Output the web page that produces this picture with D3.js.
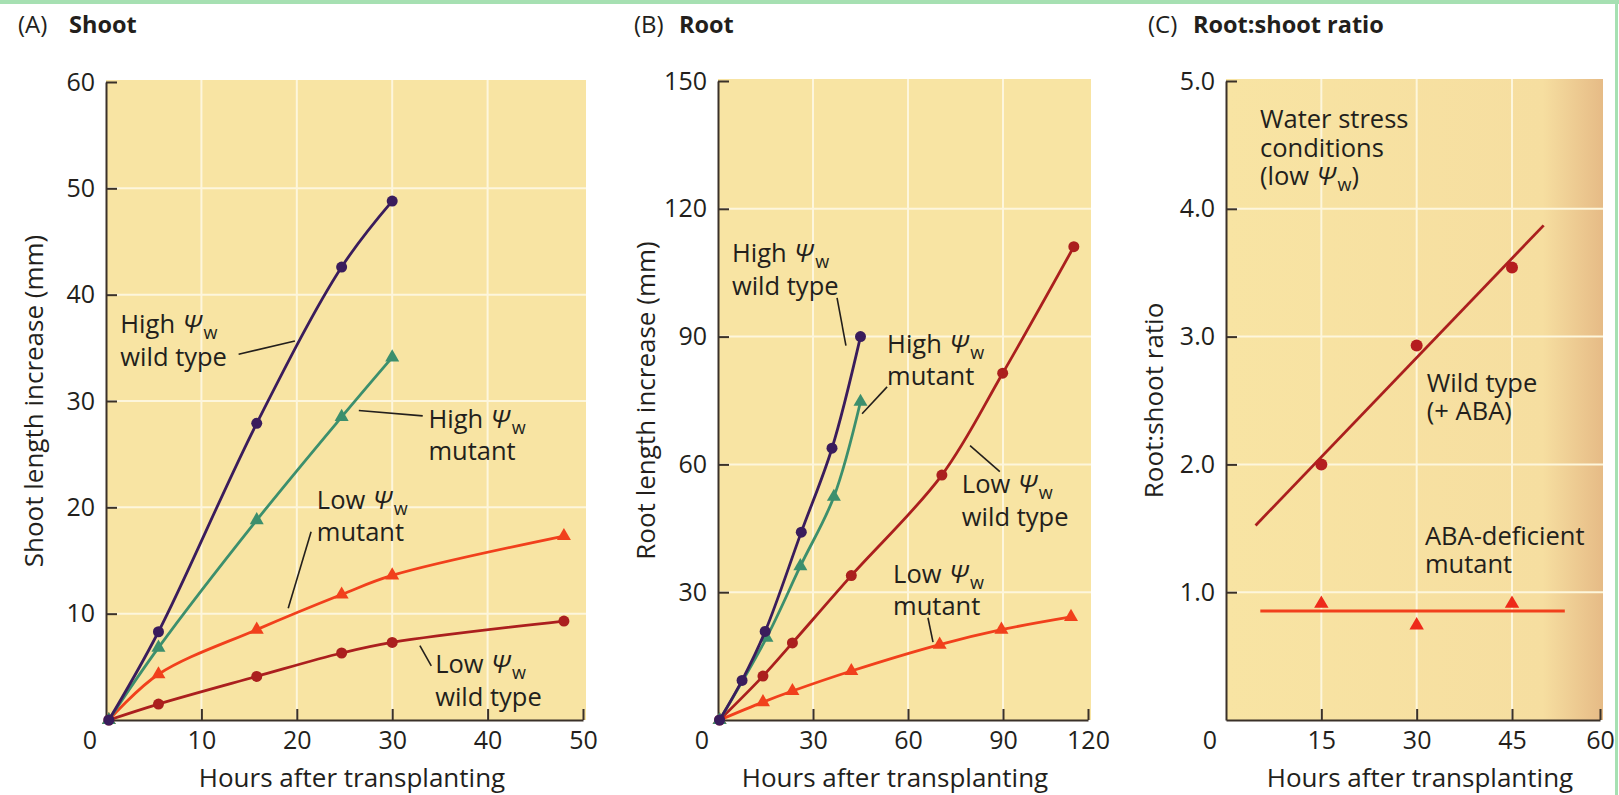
<!DOCTYPE html>
<html><head><meta charset="utf-8">
<script src="https://cdn.jsdelivr.net/npm/d3@7"></script>
<style>
body{margin:0;background:#fff;}
svg{display:block;font-family:'Open Sans',sans-serif;}
</style>
</head><body>
<svg id="c" width="1619" height="795"></svg>
<script>
// ---------- DATA ----------
// (A) Shoot length increase (mm) vs hours after transplanting
const shootHighWT_x  = [0.3, 5.5, 15.8, 24.7, 30];
const shootHighWT_y  = [0, 8.3, 27.9, 42.6, 48.8];
const shootHighMut_x = [0.3, 5.5, 15.8, 24.7, 30];
const shootHighMut_y = [0, 6.8, 18.8, 28.5, 34.1];
const shootLowMut_x  = [0.3, 5.5, 15.8, 24.7, 30, 48];
const shootLowMut_y  = [0, 4.3, 8.5, 11.8, 13.6, 17.3];
const shootLowWT_x   = [0.3, 5.5, 15.8, 24.7, 30, 48];
const shootLowWT_y   = [0, 1.5, 4.1, 6.3, 7.3, 9.3];
const shootXTicks = [10, 20, 30, 40, 50];
const shootYTicks = [10, 20, 30, 40, 50, 60];

// (B) Root length increase (mm)
const rootHighWT_x  = [0.5, 7.6, 14.9, 26.3, 36, 45];
const rootHighWT_y  = [0, 9.3, 20.8, 44.1, 63.8, 90];
const rootHighMut_x = [0.5, 15.3, 26, 36.6, 45];
const rootHighMut_y = [0, 19.3, 36.1, 52.4, 74.7];
const rootLowWT_x   = [0.5, 14.2, 23.5, 42.1, 70.7, 89.9, 115];
const rootLowWT_y   = [0, 10.3, 18.1, 33.9, 57.5, 81.4, 111.1];
const rootLowMut_x  = [0.5, 14.2, 23.5, 42.1, 70, 89.5, 114];
const rootLowMut_y  = [0, 4.2, 6.8, 11.5, 17.7, 21.2, 24.2];
const rootXTicks = [30, 60, 90, 120];
const rootYTicks = [30, 60, 90, 120, 150];

// (C) Root:shoot ratio
const ratioHours  = [15, 30, 45];
const ratioWT     = [2.0, 2.93, 3.54];
const ratioMutant = [0.91, 0.74, 0.91];
const ratioWTFitExtent  = [4.65, 50.4];
const ratioMutFitExtent = [5.4, 54];
const ratioXTicks = [15, 30, 45, 60];
const ratioYTicks = [1, 2, 3, 4, 5];

// ---------- STYLE ----------
const C = {purple:'#3a1c5c', green:'#3c8f6d', orange:'#f1401c', dred:'#ab1f1e',
           bg:'#f8e4a3', grid:'#fdf6dc', axis:'#3a3129', text:'#231f1c'};
const FS = 25.5, TFS = 25, XFS = 26, HFS = 24;

const svg = d3.select('#c');
const defs = svg.append('defs');
const grad = defs.append('linearGradient').attr('id','edge').attr('x1','0').attr('x2','1').attr('y1','0').attr('y2','0');
grad.append('stop').attr('offset','0%').attr('stop-color',C.bg);
grad.append('stop').attr('offset','84%').attr('stop-color','#f6dea0');
grad.append('stop').attr('offset','100%').attr('stop-color','#e6bb86');

// page border bits
svg.append('rect').attr('x',0).attr('y',0).attr('width',1619).attr('height',4).attr('fill','#a6e0b2');
svg.append('rect').attr('x',1615).attr('y',0).attr('width',3).attr('height',795).attr('fill','#a6e0b2');

// one <text> per annotation; each line is a tspan; "Ψ_w" -> italic Ψ with subscript w
function richText(g, x, y, lines, lh = 27) {
  const t = g.append('text').attr('x', x).attr('y', y).attr('font-size', FS).attr('fill', C.text);
  lines.forEach((line, i) => {
    const ln = t.append('tspan').attr('x', x).attr('dy', i === 0 ? 0 : lh);
    const parts = line.split('Ψ_w');
    let shifted = false;
    parts.forEach((p, j) => {
      if (p.length) {
        const s = ln.append('tspan').text(p);
        if (shifted) { s.attr('dy', -6); shifted = false; }
      }
      if (j < parts.length - 1) {
        ln.append('tspan').attr('font-style','italic').attr('dx', 1).text('Ψ');
        ln.append('tspan').attr('font-size', 18).attr('dx', 2).attr('dy', 6).text('w');
        shifted = true;
      }
    });
  });
}

function panel(p) {
  const g = svg.append('g');
  const x = p.x, y = p.y;
  const xr = x.range(), yr = y.range();
  const x0 = xr[0], x1 = xr[xr.length-1], y0 = yr[0], y1 = yr[yr.length-1];
  g.append('rect').attr('x', x0).attr('y', y1 - 2).attr('width', x1 - x0 + 3).attr('height', y0 - y1 + 2)
    .attr('fill', p.fill || C.bg);
  // grid
  g.selectAll('.vg').data(p.xTicks.slice(0, -1)).join('line')
    .attr('x1', d => x(d)).attr('x2', d => x(d)).attr('y1', y1 - 2).attr('y2', y0)
    .attr('stroke', C.grid).attr('stroke-width', 2);
  g.selectAll('.hg').data(p.yTicks.slice(0, -1)).join('line')
    .attr('x1', x0).attr('x2', x1 + 3).attr('y1', d => y(d)).attr('y2', d => y(d))
    .attr('stroke', C.grid).attr('stroke-width', 2);
  // axes
  const ax = g.append('g').attr('transform', `translate(0,${y0})`)
    .call(d3.axisBottom(x).tickValues(p.xTicks).tickFormat(p.xFmt || d3.format('d'))
      .tickSize(-11).tickSizeOuter(0).tickPadding(11));
  const ay = g.append('g').attr('transform', `translate(${x0},0)`)
    .call(d3.axisLeft(y).tickValues(p.yTicks).tickFormat(p.yFmt || d3.format('d'))
      .tickSize(-11).tickSizeOuter(0).tickPadding(11));
  [ax, ay].forEach(a => {
    a.attr('font-family', null).attr('font-size', null);
    a.select('.domain').attr('stroke', C.axis).attr('stroke-width', 2);
    a.selectAll('.tick line').attr('stroke', C.axis).attr('stroke-width', 2);
    a.selectAll('.tick text').attr('font-size', TFS).attr('fill', C.text);
  });
  // corner zero
  g.append('text').attr('x', x0 - 16).attr('y', y0 + 11).attr('dy', '0.71em')
    .attr('text-anchor', 'middle').attr('font-size', TFS).attr('fill', C.text).text('0');
  // axis titles
  g.append('text').attr('x', p.xTitleX).attr('y', 787).attr('text-anchor', 'middle')
    .attr('font-size', XFS).attr('fill', C.text).text('Hours after transplanting');
  g.append('text').attr('transform', `translate(${x0 - 63},${(y0 + y1) / 2}) rotate(-90)`)
    .attr('text-anchor', 'middle').attr('font-size', XFS).attr('fill', C.text).text(p.yTitle);
  // panel title
  g.append('text').attr('x', p.tx).attr('y', 33).attr('font-size', HFS).attr('fill', C.text).text(p.letter);
  g.append('text').attr('x', p.tx + p.tgap).attr('y', 33).attr('font-size', 23.5).attr('font-weight', 'bold')
    .attr('fill', C.text).text(p.title);
  return g;
}

function series(g, x, y, xs, ys, color, marker) {
  const pts = xs.map((d, i) => [d, ys[i]]);
  g.append('path').datum(pts)
    .attr('d', d3.line().x(d => x(d[0])).y(d => y(d[1])).curve(d3.curveCatmullRom.alpha(0.5)))
    .attr('fill', 'none').attr('stroke', color).attr('stroke-width', 2.8);
  const sym = marker === 'tri' ? d3.symbolTriangle : d3.symbolCircle;
  const size = marker === 'tri' ? 85 : 95;
  g.selectAll(null).data(pts).join('path')
    .attr('transform', d => `translate(${x(d[0])},${y(d[1])})`)
    .attr('d', d3.symbol().type(sym).size(size)).attr('fill', color);
}

function leader(g, x, y, a, b) {
  g.append('line').attr('x1', x(a[0])).attr('y1', y(a[1])).attr('x2', x(b[0])).attr('y2', y(b[1]))
    .attr('stroke', C.text).attr('stroke-width', 1.6);
}

// ---------- PANEL A ----------
{
  const x = d3.scaleLinear().domain([0, 50]).range([106, 583]);
  const y = d3.scaleLinear().domain([0, 60]).range([720, 82]);
  const g = panel({x, y, xTicks: shootXTicks, yTicks: shootYTicks, xTitleX: 352,
    yTitle: 'Shoot length increase (mm)', tx: 18, tgap: 51, letter: '(A)', title: 'Shoot'});
  series(g, x, y, shootLowWT_x, shootLowWT_y, C.dred, 'circle');
  series(g, x, y, shootLowMut_x, shootLowMut_y, C.orange, 'tri');
  series(g, x, y, shootHighMut_x, shootHighMut_y, C.green, 'tri');
  series(g, x, y, shootHighWT_x, shootHighWT_y, C.purple, 'circle');
  richText(g, x(1.5), y(36.4), ['High Ψ_w', 'wild type']);
  leader(g, x, y, [13.9, 34.4], [19.8, 35.65]);
  richText(g, x(33.8), y(27.5), ['High Ψ_w', 'mutant'], 26);
  leader(g, x, y, [26.5, 29.1], [33.2, 28.6]);
  richText(g, x(22.1), y(19.8), ['Low Ψ_w', 'mutant'], 26);
  leader(g, x, y, [21.5, 17.7], [19.1, 10.5]);
  richText(g, x(34.5), y(4.4), ['Low Ψ_w', 'wild type']);
  leader(g, x, y, [32.9, 7.0], [34.1, 5.1]);
}

// ---------- PANEL B ----------
{
  const x = d3.scaleLinear().domain([0, 90, 120]).range([718, 1003, 1088]);
  const y = d3.scaleLinear().domain([0, 150]).range([720, 81]);
  const g = panel({x, y, xTicks: rootXTicks, yTicks: rootYTicks, xTitleX: 895,
    yTitle: 'Root length increase (mm)', tx: 634, tgap: 45, letter: '(B)', title: 'Root'});
  series(g, x, y, rootLowMut_x, rootLowMut_y, C.orange, 'tri');
  series(g, x, y, rootLowWT_x, rootLowWT_y, C.dred, 'circle');
  series(g, x, y, rootHighMut_x, rootHighMut_y, C.green, 'tri');
  series(g, x, y, rootHighWT_x, rootHighWT_y, C.purple, 'circle');
  richText(g, x(4.4), y(107.4), ['High Ψ_w', 'wild type']);
  leader(g, x, y, [37.6, 99.1], [40.4, 87.9]);
  richText(g, x(53.4), y(86.2), ['High Ψ_w', 'mutant'], 26);
  leader(g, x, y, [53.4, 78.2], [45.5, 71.9]);
  richText(g, x(77), y(53.3), ['Low Ψ_w', 'wild type']);
  leader(g, x, y, [79.6, 64.4], [89, 58.3]);
  richText(g, x(55.3), y(32.2), ['Low Ψ_w', 'mutant'], 26);
  leader(g, x, y, [66.3, 24], [67.9, 18.3]);
}

// ---------- PANEL C ----------
{
  const x = d3.scaleLinear().domain([0, 45, 60]).range([1226, 1512, 1600]);
  const y = d3.scaleLinear().domain([0, 5]).range([720, 81]);
  const g = panel({x, y, xTicks: ratioXTicks, yTicks: ratioYTicks, xTitleX: 1420,
    yFmt: d3.format('.1f'), fill: 'url(#edge)',
    yTitle: 'Root:shoot ratio', tx: 1148, tgap: 45, letter: '(C)', title: 'Root:shoot ratio'});
  // least-squares line for wild type, mean line for mutant
  const mx = d3.mean(ratioHours), my = d3.mean(ratioWT);
  const slope = d3.sum(ratioHours, (h, i) => (h - mx) * (ratioWT[i] - my)) / d3.sum(ratioHours, h => (h - mx) ** 2);
  const fit = h => my + slope * (h - mx);
  g.append('line').attr('x1', x(ratioWTFitExtent[0])).attr('y1', y(fit(ratioWTFitExtent[0])))
    .attr('x2', x(ratioWTFitExtent[1])).attr('y2', y(fit(ratioWTFitExtent[1])))
    .attr('stroke', C.dred).attr('stroke-width', 2.8);
  const mm = d3.mean(ratioMutant);
  g.append('line').attr('x1', x(ratioMutFitExtent[0])).attr('y1', y(mm))
    .attr('x2', x(ratioMutFitExtent[1])).attr('y2', y(mm))
    .attr('stroke', C.orange).attr('stroke-width', 3);
  g.selectAll(null).data(ratioHours.map((h, i) => [h, ratioWT[i]])).join('circle')
    .attr('cx', d => x(d[0])).attr('cy', d => y(d[1])).attr('r', 6).attr('fill', '#b51d1f');
  g.selectAll(null).data(ratioHours.map((h, i) => [h, ratioMutant[i]])).join('path')
    .attr('transform', d => `translate(${x(d[0])},${y(d[1])})`)
    .attr('d', d3.symbol().type(d3.symbolTriangle).size(90)).attr('fill', '#ee2a1a');
  richText(g, x(5.35), y(4.63), ['Water stress', 'conditions', '(low Ψ_w)'], 28.5);
  richText(g, x(31.6), y(2.57), ['Wild type', '(+ ABA)'], 28);
  richText(g, x(31.3), y(1.37), ['ABA-deficient', 'mutant'], 28);
}
</script>
</body></html>
